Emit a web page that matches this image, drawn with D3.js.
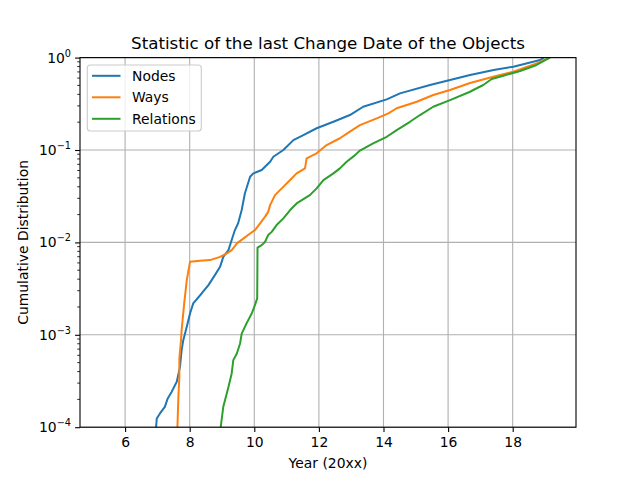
<!DOCTYPE html>
<html><head><meta charset="utf-8">
<script src="https://cdn.jsdelivr.net/npm/d3@7"></script>
<style>body{margin:0;background:#fff}svg{font-family:"DejaVu Sans",sans-serif}</style>
</head><body><svg id="c" width="640" height="480"></svg>
<script>
const seriesNames = ["Nodes", "Ways", "Relations"];
const seriesColors = ["#1f77b4", "#ff7f0e", "#2ca02c"];
const nodesX = [6.95,6.98,7.08,7.23,7.32,7.44,7.60,7.70,7.75,7.80,7.91,8.01,8.11,8.37,8.58,8.78,8.94,9.04,9.20,9.30,9.40,9.50,9.61,9.71,9.87,9.97,10.23,10.49,10.59,10.90,11.21,11.52,11.93,12.45,12.96,13.37,14.10,14.51,15.44,16.06,16.68,17.41,18.02,18.85,18.97];
const nodesY = [9e-5,1.24e-4,1.41e-4,1.66e-4,2.05e-4,2.41e-4,3.1e-4,4.5e-4,6.8e-4,8.7e-4,1.22e-3,1.70e-3,2.19e-3,2.8e-3,3.45e-3,4.42e-3,5.44e-3,6.98e-3,8.26e-3,1.06e-2,1.36e-2,1.61e-2,2.24e-2,3.4e-2,5.13e-2,5.58e-2,6.07e-2,7.47e-2,8.45e-2,0.1,0.128,0.145,0.172,0.202,0.239,0.294,0.353,0.41,0.505,0.572,0.648,0.734,0.797,0.942,1.0];
const waysX = [7.61,7.62,7.65,7.68,7.68,7.73,7.75,7.83,7.91,8.01,8.32,8.63,8.94,9.15,9.30,9.40,9.46,9.66,9.87,10.02,10.18,10.33,10.43,10.49,10.64,10.85,11.11,11.31,11.57,11.62,11.93,12.24,12.65,12.96,13.27,13.79,14.15,14.41,15.03,15.54,16.06,16.68,17.40,18.02,18.74,19.15];
const waysY = [5e-5,1e-4,2.13e-4,3.5e-4,5.5e-4,8.7e-4,1.12e-3,2.19e-3,3.9e-3,6.16e-3,6.32e-3,6.43e-3,6.98e-3,7.6e-3,8.26e-3,9.12e-3,9.75e-3,1.1e-2,1.25e-2,1.36e-2,1.61e-2,1.89e-2,2.14e-2,2.53e-2,3.25e-2,3.84e-2,4.73e-2,5.58e-2,6.33e-2,8.1e-2,9.2e-2,0.113,0.134,0.158,0.186,0.22,0.249,0.283,0.333,0.394,0.446,0.531,0.621,0.704,0.867,1.0];
const relX = [8.93,8.96,9.04,9.20,9.30,9.35,9.46,9.56,9.61,9.76,9.92,10.02,10.09,10.10,10.23,10.33,10.43,10.54,10.69,10.90,11.11,11.31,11.72,11.93,12.14,12.45,12.65,12.86,13.12,13.27,13.68,14.10,14.41,14.82,15.13,15.54,16.06,16.68,16.78,17.09,17.35,17.71,18.23,18.74,19.15];
const relY = [8e-5,1e-4,1.66e-4,2.73e-4,3.82e-4,5.32e-4,6.28e-4,8.05e-4,1.03e-3,1.33e-3,1.70e-3,2.09e-3,2.48e-3,8.79e-3,9.35e-3,1.01e-2,1.2e-2,1.3e-2,1.54e-2,1.82e-2,2.24e-2,2.64e-2,3.25e-2,3.84e-2,4.73e-2,5.58e-2,6.33e-2,7.46e-2,8.8e-2,9.86e-2,0.118,0.139,0.164,0.202,0.239,0.294,0.347,0.427,0.446,0.505,0.586,0.637,0.716,0.832,1.0];
const xTicks = [6, 8, 10, 12, 14, 16, 18];
const yTicks = [1e-4, 1e-3, 1e-2, 1e-1, 1];
const yTickExp = ["\u22124", "\u22123", "\u22122", "\u22121", "0"];
const titleText = "Statistic of the last Change Date of the Objects";
const xLabel = "Year (20xx)";
const yLabel = "Cumulative Distribution";

const L = 80, R = 576, T = 57.6, B = 427.2;
const svg = d3.select("#c");
const x = d3.scaleLinear().domain([4.604, 19.96]).range([L, R]);
const y = d3.scaleLog().domain([1e-4, 1]).range([B, T]);

svg.append("defs").append("clipPath").attr("id", "clip")
  .append("rect").attr("x", L).attr("y", T).attr("width", R - L).attr("height", B - T);

// grid
const g = svg.append("g");
g.selectAll(".gx").data(xTicks).enter().append("line")
  .attr("x1", d => x(d)).attr("x2", d => x(d)).attr("y1", T).attr("y2", B)
  .attr("stroke", "#b0b0b0").attr("stroke-width", 1.1);
g.selectAll(".gy").data(yTicks).enter().append("line")
  .attr("y1", d => y(d)).attr("y2", d => y(d)).attr("x1", L).attr("x2", R)
  .attr("stroke", "#b0b0b0").attr("stroke-width", 1.1);

// lines
const series = [[nodesX, nodesY], [waysX, waysY], [relX, relY]];
const line = d3.line().x(d => x(d[0])).y(d => y(d[1]));
const lg = svg.append("g").attr("clip-path", "url(#clip)");
series.forEach((s, i) => {
  const pts = s[0].map((v, k) => [v, s[1][k]]);
  lg.append("path").datum(pts).attr("d", line).attr("fill", "none")
    .attr("stroke", seriesColors[i]).attr("stroke-width", 2).attr("stroke-linejoin", "round");
});

// x axis
const xa = svg.append("g").attr("transform", `translate(0,${B})`)
  .call(d3.axisBottom(x).tickValues(xTicks).tickFormat(d3.format("d")).tickSize(4.9).tickPadding(4.9));
xa.select(".domain").remove();
xa.selectAll("line").attr("stroke-width", 1.1);
xa.selectAll("text").attr("font-size", "13.9px").attr("font-family", "DejaVu Sans").attr("fill", "#000");

// y axis
const ya = svg.append("g").attr("transform", `translate(${L},0)`)
  .call(d3.axisLeft(y).tickValues(yTicks).tickFormat("").tickSize(4.9));
ya.select(".domain").remove();
ya.selectAll("line").attr("stroke-width", 1.1);
const minor = [];
for (let e = -4; e < 0; e++) for (let m = 2; m <= 9; m++) minor.push(m * Math.pow(10, e));
svg.append("g").selectAll("line").data(minor).enter().append("line")
  .attr("x1", L - 2.8).attr("x2", L).attr("y1", d => y(d)).attr("y2", d => y(d))
  .attr("stroke", "#000").attr("stroke-width", 0.8);
yTicks.forEach((v, i) => {
  const t = svg.append("text").attr("x", L - 9).attr("y", y(v) + 5)
    .attr("text-anchor", "end").attr("font-size", "13.9px").attr("fill", "#000");
  t.append("tspan").text("10");
  t.append("tspan").attr("dy", -6).attr("font-size", "9.7px").text(yTickExp[i]);
});

// frame
svg.append("rect").attr("x", L).attr("y", T).attr("width", R - L).attr("height", B - T)
  .attr("fill", "none").attr("stroke", "#000").attr("stroke-width", 1.1);

// labels
svg.append("text").attr("x", (L + R) / 2).attr("y", 49).attr("text-anchor", "middle")
  .attr("font-size", "16.7px").text(titleText);
svg.append("text").attr("x", (L + R) / 2).attr("y", 468).attr("text-anchor", "middle")
  .attr("font-size", "13.9px").text(xLabel);
svg.append("text").attr("transform", `translate(28,${(T + B) / 2}) rotate(-90)`)
  .attr("text-anchor", "middle").attr("font-size", "13.9px").text(yLabel);

// legend
const leg = svg.append("g");
leg.append("rect").attr("x", 87.3).attr("y", 65).attr("width", 114).attr("height", 66).attr("rx", 3)
  .attr("fill", "#fff").attr("fill-opacity", 0.8).attr("stroke", "#cccccc").attr("stroke-width", 1.1);
seriesNames.forEach((n, i) => {
  const yy = 75.8 + i * 21.5;
  leg.append("line").attr("x1", 92).attr("x2", 120.5).attr("y1", yy).attr("y2", yy)
    .attr("stroke", seriesColors[i]).attr("stroke-width", 2);
  leg.append("text").attr("x", 132).attr("y", yy + 5).attr("font-size", "13.9px").text(n);
});
</script></body></html>
